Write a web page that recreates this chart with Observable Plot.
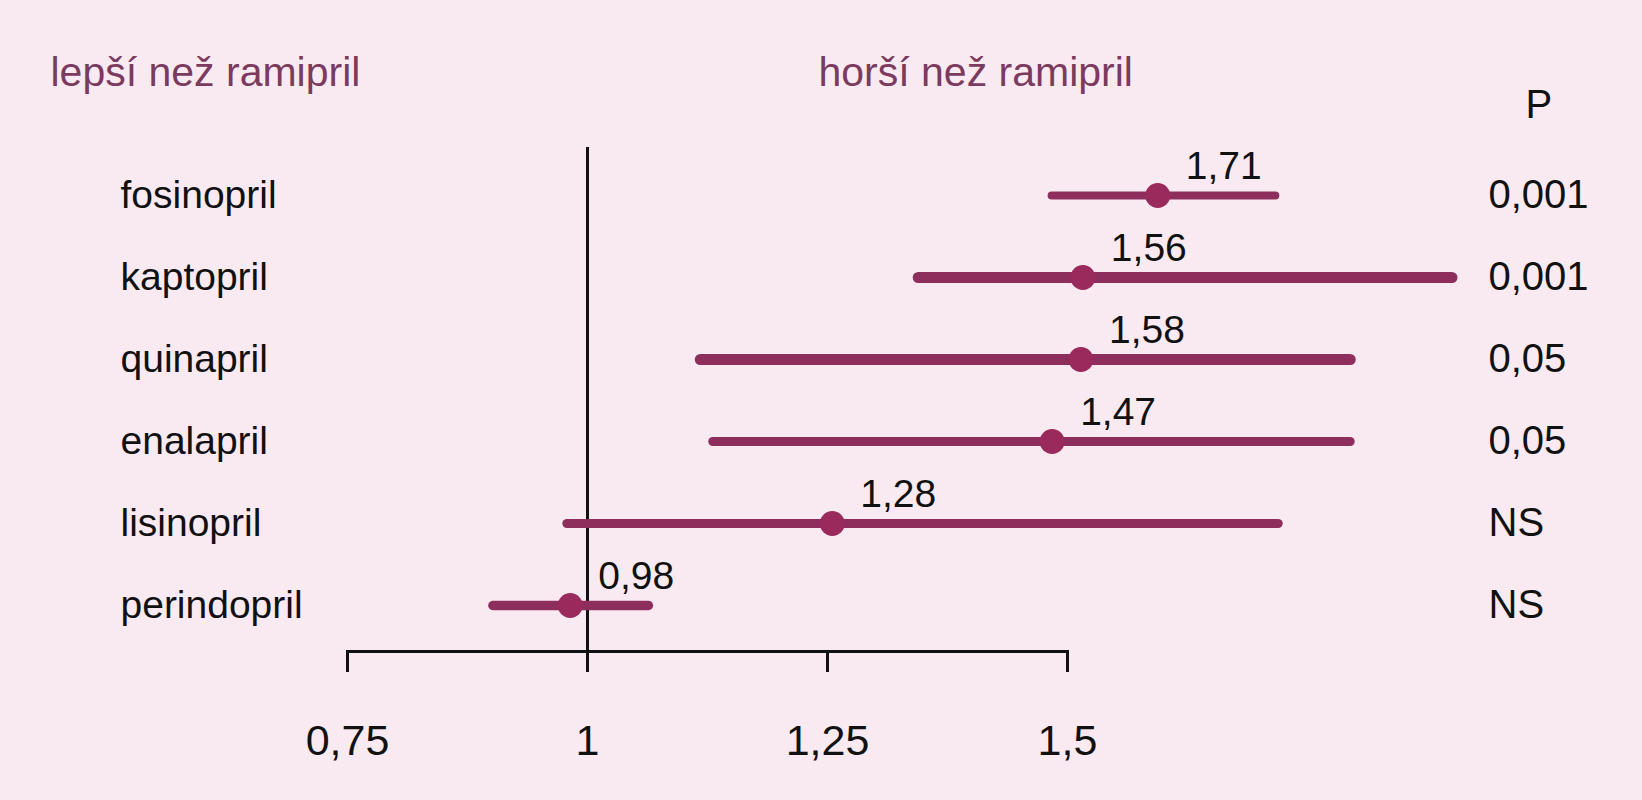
<!DOCTYPE html>
<html>
<head>
<meta charset="utf-8">
<script src="https://cdn.jsdelivr.net/npm/d3@7"></script>
<script src="https://cdn.jsdelivr.net/npm/@observablehq/plot@0.6"></script>
<style>
  html, body { margin: 0; padding: 0; background: #f9eaf2; }
  #chart svg { display: block; }
</style>
</head>
<body>
<div id="chart"></div>
<script>
// ---- data ----
const drugs = ["fosinopril", "kaptopril", "quinapril", "enalapril", "lisinopril", "perindopril"];
const estimate = [1.594, 1.516, 1.514, 1.484, 1.255, 0.982];
const lower = [1.484, 1.345, 1.118, 1.131, 0.979, 0.902];
const upper = [1.717, 1.901, 1.795, 1.795, 1.720, 1.064];
const valueLabels = ["1,71", "1,56", "1,58", "1,47", "1,28", "0,98"];
const pValues = ["0,001", "0,001", "0,05", "0,05", "NS", "NS"];
const xTicks = [0.75, 1, 1.25, 1.5];
const xTickLabels = ["0,75", "1", "1,25", "1,5"];
const leftHeader = "lepší než ramipril";
const rightHeader = "horší než ramipril";
const pHeader = "P";

const rows = drugs.map((d, i) => ({
  drug: d, est: estimate[i], lo: lower[i], hi: upper[i], label: valueLabels[i], p: pValues[i]
}));

// ---- style ----
const W = 1642, H = 800;
const mL = 347, mR = 575, mT = 147, mB = 149;
const lineColor = "#8e2e5c";
const dotColor = "#9a2a5b";
const headColor = "#7b3a5e";
const ink = "#111";
// line thickness per row as drawn in the original (styling only)
const lineWidthByDrug = { fosinopril: 8, kaptopril: 11, quinapril: 11, enalapril: 9, lisinopril: 9, perindopril: 9.5 };

const chart = Plot.plot({
  width: W,
  height: H,
  marginLeft: mL,
  marginRight: mR,
  marginTop: mT,
  marginBottom: mB,
  style: { background: "#f9eaf2", fontFamily: "'Liberation Sans', Arial, sans-serif", color: ink },
  x: { domain: [0.75, 1.5], axis: null },
  y: { type: "point", domain: drugs, range: [193, 607], padding: 0, axis: null },
  marks: [
    Plot.frame({ anchor: "bottom", stroke: ink, strokeWidth: 3 }),
    Plot.axisX({
      ticks: xTicks,
      tickFormat: (d) => xTickLabels[xTicks.indexOf(d)],
      tickSize: 21,
      tickPadding: 52,
      strokeWidth: 3,
      stroke: ink,
      fontSize: 43,
      fill: ink,
      label: null
    }),
    Plot.ruleX([1], { stroke: ink, strokeWidth: 3 }),
    ...rows.map((r) =>
      Plot.ruleY([r], { y: "drug", x1: "lo", x2: "hi", stroke: lineColor, strokeWidth: lineWidthByDrug[r.drug], strokeLinecap: "round" })
    ),
    Plot.dot(rows, { x: "est", y: "drug", r: 12.5, fill: dotColor, stroke: "none" }),
    Plot.text(rows, { x: "est", y: "drug", text: "label", textAnchor: "start", lineAnchor: "bottom", dx: 28, dy: -17, fontSize: 39, fill: ink }),
    Plot.text(rows, { y: "drug", text: "drug", frameAnchor: "left", textAnchor: "start", dx: 120 - mL, fontSize: 39, fill: ink }),
    Plot.text(rows, { y: "drug", text: "p", frameAnchor: "right", textAnchor: "start", dx: 1488 - (W - mR), fontSize: 40, fill: ink }),
    Plot.text([leftHeader], { text: (d) => d, frameAnchor: "top-left", textAnchor: "start", lineAnchor: "bottom", dx: 50 - mL, dy: 85 - mT, fontSize: 41, fill: headColor }),
    Plot.text([rightHeader], { text: (d) => d, frameAnchor: "top-left", textAnchor: "start", lineAnchor: "bottom", dx: 818 - mL, dy: 85 - mT, fontSize: 41, fill: headColor }),
    Plot.text([pHeader], { text: (d) => d, frameAnchor: "top-left", textAnchor: "start", lineAnchor: "bottom", dx: 1525 - mL, dy: 117 - mT, fontSize: 40, fill: ink })
  ]
});

document.getElementById("chart").appendChild(chart);
</script>
</body>
</html>
